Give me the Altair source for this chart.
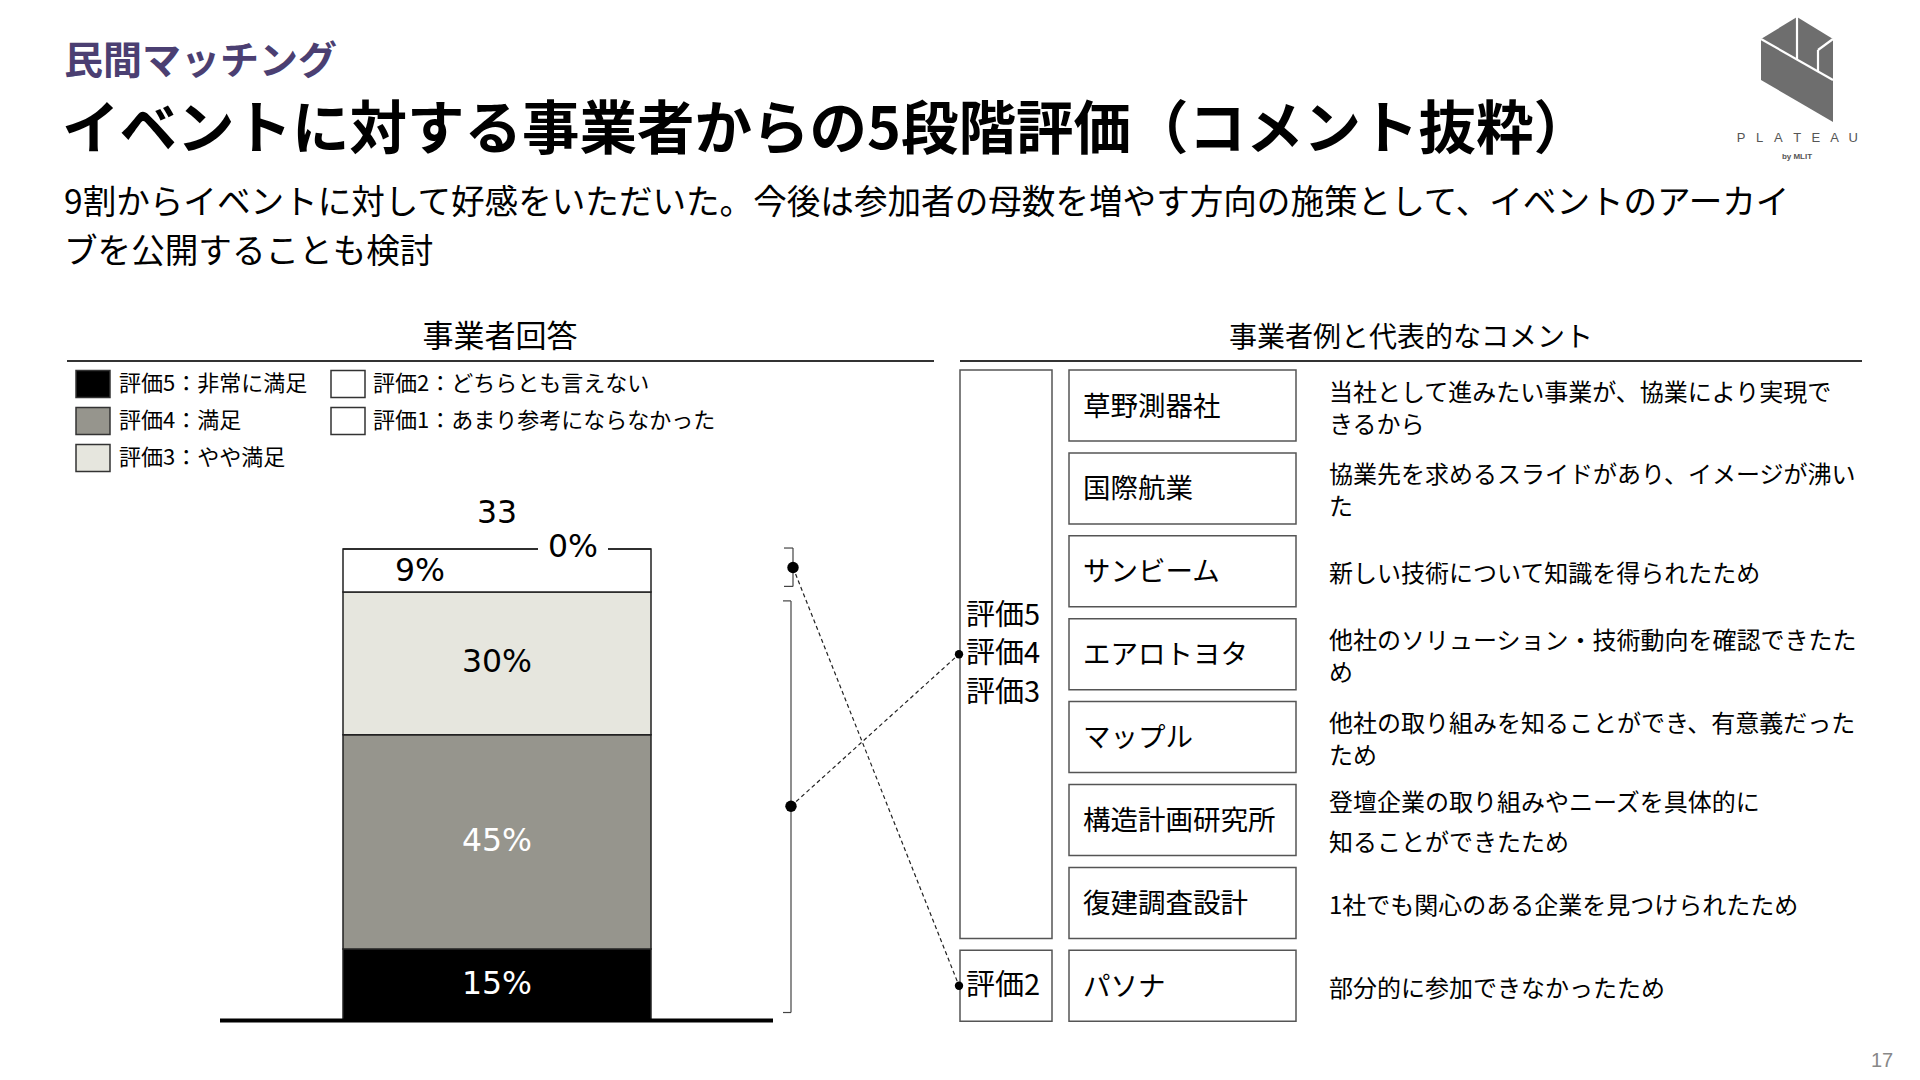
import altair as alt
import pandas as pd

# ---------------- data ----------------
ratings = ["評価5", "評価4", "評価3", "評価2", "評価1"]
rating_desc = ["非常に満足", "満足", "やや満足", "どちらとも言えない", "あまり参考にならなかった"]
rating_pct = [15, 45, 30, 9, 0]
respondents = 33
rating_colors = ["#000000", "#96958D", "#E6E6DE", "#FFFFFF", "#FFFFFF"]
label_colors = ["#FFFFFF", "#FFFFFF", "#000000", "#000000", "#000000"]

group_members = [["評価5", "評価4", "評価3"], ["評価2"]]
bracket_members = [["評価5", "評価4", "評価3"], ["評価2", "評価1"]]

companies = ["草野測器社", "国際航業", "サンビーム", "エアロトヨタ", "マップル",
             "構造計画研究所", "復建調査設計", "パソナ"]
company_group = [0, 0, 0, 0, 0, 0, 0, 1]
comments = [
    ["当社として進みたい事業が、協業により実現で", "きるから"],
    ["協業先を求めるスライドがあり、イメージが沸い", "た"],
    ["新しい技術について知識を得られたため"],
    ["他社のソリューション・技術動向を確認できたた", "め"],
    ["他社の取り組みを知ることができ、有意義だった", "ため"],
    ["登壇企業の取り組みやニーズを具体的に", "知ることができたため"],
    ["1社でも関心のある企業を見つけられたため"],
    ["部分的に参加できなかったため"],
]

section = "民間マッチング"
title = "イベントに対する事業者からの5段階評価（コメント抜粋）"
subtitle_lines = [
    "9割からイベントに対して好感をいただいた。今後は参加者の母数を増やす方向の施策として、イベントのアーカイ",
    "ブを公開することも検討",
]
left_header = "事業者回答"
right_header = "事業者例と代表的なコメント"
page_no = "17"
logo_letters = list("PLATEAU")
logo_sub = "by MLIT"

# ---------------- layout ----------------
JP = "Noto Sans CJK JP"
NUM = "DejaVu Sans"
W, H = 1904, 1064
BAR_LO, BAR_HI = -10.81, 212.60
BAR_X = [335, 643]


def PX(f):
    return alt.X(f"{f}:Q", scale=alt.Scale(domain=[8, 1912], nice=False, zero=False), axis=None)


def PY(f):
    return alt.Y(f"{f}:Q", scale=alt.Scale(domain=[8, 1072], nice=False, zero=False, reverse=True), axis=None)


YB = alt.Scale(domain=[BAR_LO, BAR_HI], nice=False, zero=False)


def bar_px(v):
    return 8 + (BAR_HI - v) * H / (BAR_HI - BAR_LO)


def texts(rows, size, color="#000000", weight="normal", align="left", font=JP):
    df = pd.DataFrame(rows, columns=["x", "y", "text"])
    return alt.Chart(df).mark_text(align=align, baseline="middle", fontSize=size, color=color,
                                   fontWeight=weight, font=font).encode(
        x=PX("x"), y=PY("y"), text="text:N")


def rects(rows, stroke="#555555", sw=1.5):
    df = pd.DataFrame(rows, columns=["x", "x2", "y", "y2", "fill"])
    return alt.Chart(df).mark_rect(stroke=stroke, strokeWidth=sw).encode(
        x=PX("x"), x2=alt.X2("x2"), y=PY("y"), y2=alt.Y2("y2"),
        color=alt.Color("fill:N", scale=None))


def segs(rows, color="#333333", sw=2.0, dash=None):
    df = pd.DataFrame(rows, columns=["x", "x2", "y", "y2"])
    kw = dict(color=color, strokeWidth=sw)
    if dash:
        kw["strokeDash"] = dash
    return alt.Chart(df).mark_rule(**kw).encode(
        x=PX("x"), x2=alt.X2("x2"), y=PY("y"), y2=alt.Y2("y2"))


pix = []

# titles
pix.append(texts([(64, 62, section)], 39, color="#4B3F72", weight="bold"))
pix.append(texts([(62, 132, title)], 57.5, weight="bold"))
pix.append(texts([(64, 204, subtitle_lines[0]), (64, 253, subtitle_lines[1])], 33.6))

# section headers and underlines
pix.append(texts([(500, 338, left_header)], 31, align="center"))
pix.append(texts([(1411, 339, right_header)], 28, align="center"))
pix.append(segs([(67, 934, 361, 361), (960, 1862, 361, 361)], color="#333333", sw=2))

# legend
leg_sq, leg_tx = [], []
for i, (r, d, c) in enumerate(zip(ratings, rating_desc, rating_colors)):
    col = 0 if i < 3 else 1
    row = i if i < 3 else i - 3
    x0 = [76, 331][col]
    yc = 384 + row * 37
    leg_sq.append((x0, x0 + 34, yc - 13.5, yc + 13.5, c))
    leg_tx.append(([119, 373][col], yc, f"{r}：{d}"))
pix.append(rects(leg_sq, stroke="#333333", sw=1.5))
pix.append(texts(leg_tx, 22))

# right-hand table
ROW_TOP0, ROW_PITCH, ROW_H = 370, 82.9, 71
row_top = [ROW_TOP0 + i * ROW_PITCH for i in range(len(companies))]
row_mid = [t + ROW_H / 2 for t in row_top]

grp_boxes, grp_mid = [], []
for g in range(len(group_members)):
    idx = [i for i, cg in enumerate(company_group) if cg == g]
    top, bot = row_top[idx[0]], row_top[idx[-1]] + ROW_H
    grp_boxes.append((960, 1052, top, bot, "#FFFFFF"))
    grp_mid.append((top + bot) / 2)
comp_boxes = [(1069, 1296, t, t + ROW_H, "#FFFFFF") for t in row_top]
pix.append(rects(grp_boxes + comp_boxes, stroke="#555555", sw=1.5))

grp_tx = []
for g, members in enumerate(group_members):
    n = len(members)
    for j, m in enumerate(members):
        grp_tx.append((966, grp_mid[g] + (j - (n - 1) / 2) * 38.5, m))
pix.append(texts(grp_tx, 29))

pix.append(texts([(1083, m + 2, c) for c, m in zip(companies, row_mid)], 27.5))

cm_tx = []
for i, (lines, m) in enumerate(zip(comments, row_mid)):
    if len(lines) == 1:
        cm_tx.append((1329, m + 4, lines[0]))
    else:
        gap = 40 if i == 5 else 32
        cm_tx.append((1329, m + 4 - gap / 2, lines[0]))
        cm_tx.append((1329, m + 4 + gap / 2, lines[1]))
pix.append(texts(cm_tx, 24))

# connectors from brackets to the groups
cum = [0]
for p in rating_pct:
    cum.append(cum[-1] + p)
brk = []
for members in bracket_members:
    idx = [ratings.index(m) for m in members]
    brk.append((cum[idx[0]], cum[idx[-1] + 1]))
brk_style = [dict(xv=791, xt=783, off_lo=-8, off_hi=9, dot=0),
             dict(xv=793, xt=784, off_lo=-5.5, off_hi=-1, dot=-3)]
conn = []
ends = []
for (lo, hi), st, gm in zip(brk, brk_style, grp_mid):
    y0 = bar_px((lo + hi) / 2) + st["dot"]
    conn.append((st["xv"], 959, y0, gm))
    ends.append((959, gm))
pix.append(segs(conn, color="#222222", sw=1.2, dash=[4, 3]))
pix.append(alt.Chart(pd.DataFrame(ends, columns=["x", "y"])).mark_circle(size=70, color="#000000", opacity=1)
           .encode(x=PX("x"), y=PY("y")))

# page number
pix.append(texts([(1882, 1061, page_no)], 20, color="#888888", align="center", font="Liberation Sans"))

# logo
logo_df = pd.DataFrame({"x": [1761, 1797, 1833], "y": [39, 17, 39], "y2": [80, 101, 122]})
pix.append(alt.Chart(logo_df).mark_area(color="#6E6E6E", opacity=1).encode(
    x=PX("x"), y=PY("y"), y2=alt.Y2("y2")))
pix.append(segs([(1761, 1833, 39, 80), (1797, 1797, 17, 59.5), (1833, 1818, 39, 50), (1818, 1818, 50, 71.5)],
                color="#FFFFFF", sw=2.2))
pix.append(texts([(1741 + i * 18.7, 138, ch) for i, ch in enumerate(logo_letters)], 13,
                 color="#555555", align="center", font="Liberation Sans"))
pix.append(texts([(1797, 157, logo_sub)], 8, color="#555555", align="center", font="Liberation Sans",
                 weight="bold"))

# ---------------- stacked bar ----------------
bar_df = pd.DataFrame({
    "rating": ratings, "pct": rating_pct, "rank": list(range(1, len(ratings) + 1)),
    "label": [f"{p}%" for p in rating_pct], "lab_color": label_colors,
    "resp": [str(respondents)] * len(ratings),
})
BX = alt.X("resp:N", scale=alt.Scale(domain=[str(respondents)], range=BAR_X, paddingInner=0, paddingOuter=0),
           axis=None)

bars = alt.Chart(bar_df).mark_bar(stroke="#222222", strokeWidth=1.5).encode(
    x=BX,
    y=alt.Y("pct:Q", stack="zero", scale=YB, axis=None),
    color=alt.Color("rating:N", scale=alt.Scale(domain=ratings, range=rating_colors), legend=None),
    order=alt.Order("rank:Q"),
)

stacked = alt.Chart(bar_df).transform_stack(
    stack="pct", groupby=["resp"], as_=["p0", "p1"], sort=[alt.SortField("rank", order="ascending")]
).transform_calculate(mid="(datum.p0 + datum.p1) / 2")

LBL = 31.5
lab_main = stacked.transform_filter(alt.FieldOneOfPredicate(field="rating", oneOf=ratings[:3])).mark_text(
    font=NUM, fontSize=LBL, baseline="middle").encode(
    x=BX, y=alt.Y("mid:Q", scale=YB, axis=None), text="label:N", color=alt.Color("lab_color:N", scale=None))
lab_r2 = stacked.transform_filter(alt.datum.rating == ratings[3]).mark_text(
    font=NUM, fontSize=LBL, baseline="middle", dx=-77, dy=2).encode(
    x=BX, y=alt.Y("mid:Q", scale=YB, axis=None), text="label:N", color=alt.Color("lab_color:N", scale=None))
bg_r1 = stacked.transform_filter(alt.datum.rating == ratings[4]).mark_point(
    shape="M-1,-0.45L1,-0.45L1,0.45L-1,0.45Z", size=4900, filled=True, color="#FFFFFF",
    opacity=1, strokeWidth=0, xOffset=76).encode(
    x=BX, y=alt.Y("mid:Q", scale=YB, axis=None))
lab_r1 = stacked.transform_filter(alt.datum.rating == ratings[4]).mark_text(
    font=NUM, fontSize=LBL, baseline="middle", dx=76, dy=-1).encode(
    x=BX, y=alt.Y("mid:Q", scale=YB, axis=None), text="label:N", color=alt.Color("lab_color:N", scale=None))

total_df = pd.DataFrame({"resp": [str(respondents)], "total": [sum(rating_pct)]})
lab_n = alt.Chart(total_df).mark_text(font=NUM, fontSize=LBL, baseline="middle", dy=-35, color="#000000").encode(
    x=BX, y=alt.Y("total:Q", scale=YB, axis=None), text="resp:N")

base_df = pd.DataFrame({"zero": [0]})
baseline = alt.Chart(base_df).mark_rule(color="#000000", strokeWidth=4).encode(
    x=alt.value(212), x2=alt.value(765), y=alt.Y("zero:Q", scale=YB, axis=None))

bar_layers = [bars, bg_r1, lab_main, lab_r2, lab_r1, lab_n, baseline]
for (lo, hi), st in zip(brk, brk_style):
    bdf = pd.DataFrame({"lo": [lo], "hi": [hi], "mid": [(lo + hi) / 2]})
    c = alt.Chart(bdf)
    bar_layers.append(c.mark_rule(color="#444444", strokeWidth=1.2, yOffset=st["off_lo"], y2Offset=st["off_hi"])
                      .encode(x=alt.value(st["xv"] - 8), y=alt.Y("lo:Q", scale=YB, axis=None), y2="hi:Q"))
    bar_layers.append(c.mark_rule(color="#444444", strokeWidth=1.2, yOffset=st["off_hi"])
                      .encode(x=alt.value(st["xt"] - 8), x2=alt.value(st["xv"] - 8),
                              y=alt.Y("hi:Q", scale=YB, axis=None)))
    bar_layers.append(c.mark_rule(color="#444444", strokeWidth=1.2, yOffset=st["off_lo"])
                      .encode(x=alt.value(st["xt"] - 8), x2=alt.value(st["xv"] - 8),
                              y=alt.Y("lo:Q", scale=YB, axis=None)))
    bar_layers.append(c.mark_circle(size=130, color="#000000", opacity=1, yOffset=st["dot"])
                      .encode(x=alt.value(st["xv"] - 8), y=alt.Y("mid:Q", scale=YB, axis=None)))

chart = alt.layer(
    alt.layer(*pix),
    alt.layer(*bar_layers),
).resolve_scale(x="independent", y="independent", color="independent").properties(
    width=W, height=H, padding=0, background="#FFFFFF",
    autosize=alt.AutoSizeParams(type="none"),
).configure_view(stroke=None)

chart.save("out.html", embed_options={"renderer": "svg", "actions": False})
